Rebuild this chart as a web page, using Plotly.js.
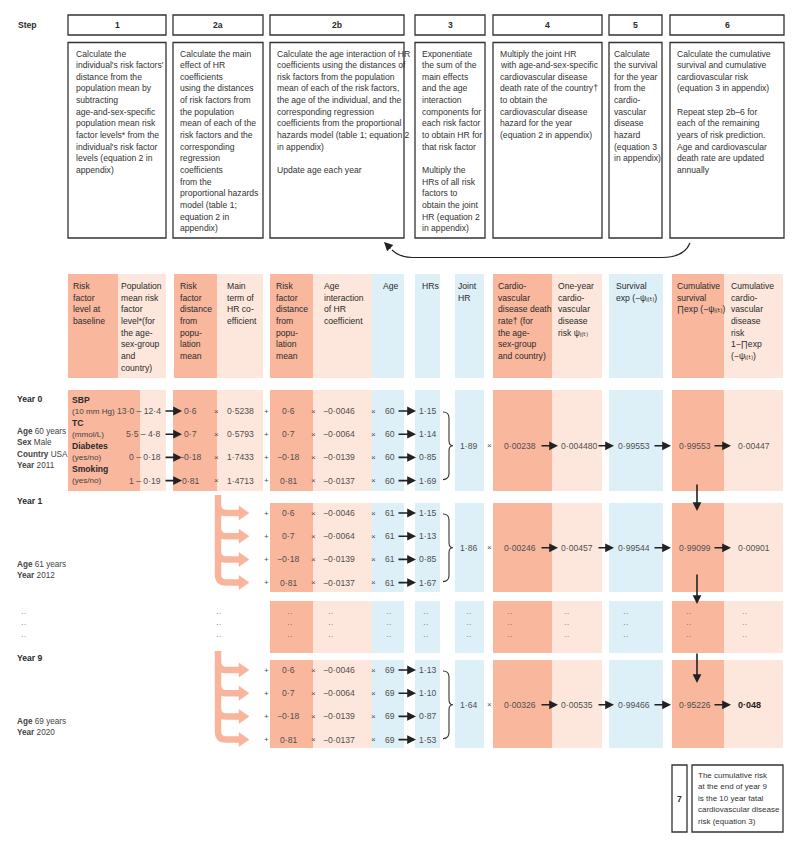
<!DOCTYPE html>
<html>
<head>
<meta charset="utf-8">
<script src="https://cdn.plot.ly/plotly-3.0.1.min.js"></script>
<style>
  html, body { margin: 0; padding: 0; background: #fff; }
  #chart { width: 800px; height: 848px; }
</style>
</head>
<body>
<div id="chart"></div>
<script>
// ---- values ----
const steps = ['1', '2a', '2b', '3', '4', '5', '6'];
const stepText = [
  "Calculate the|individual's risk factors'|distance from the|population mean by|subtracting|age-and-sex-specific|population mean risk|factor levels* from the|individual's risk factor|levels (equation 2 in|appendix)",
  "Calculate the main|effect of HR|coefficients|using the distances|of risk factors from|the population|mean of each of the|risk factors and the|corresponding|regression|coefficients|from the|proportional hazards|model (table 1;|equation 2 in|appendix)",
  "Calculate the age interaction of HR|coefficients using the distances of|risk factors from the population|mean of each of the risk factors,|the age of the individual, and the|corresponding regression|coefficients from the proportional|hazards model (table 1; equation 2|in appendix)||Update age each year",
  "Exponentiate|the sum of the|main effects|and the age|interaction|components for|each risk factor|to obtain HR for|that risk factor||Multiply the|HRs of all risk|factors to|obtain the joint|HR (equation 2|in appendix)",
  "Multiply the joint HR|with age-and-sex-specific|cardiovascular disease|death rate of the country†|to obtain the|cardiovascular disease|hazard for the year|(equation 2 in appendix)",
  "Calculate|the survival|for the year|from the|cardio-|vascular|disease|hazard|(equation 3|in appendix)",
  "Calculate the cumulative|survival and cumulative|cardiovascular risk|(equation 3 in appendix)||Repeat step 2b–6 for|each of the remaining|years of risk prediction.|Age and cardiovascular|death rate are updated|annually"
];
const step7Text = "The cumulative risk|at the end of year 9|is the 10 year fatal|cardiovascular disease|risk (equation 3)";

const SUB = 'ᵢ₍ₜ₎';
const columnHeads = [
  'Risk|factor|level at|baseline',
  'Population|mean risk|factor|level*(for|the age-|sex-group|and|country)',
  'Risk|factor|distance|from|popu-|lation|mean',
  'Main|term of|HR co-|efficient',
  'Risk|factor|distance|from|popu-|lation|mean',
  'Age|interaction|of HR|coefficient',
  'Age',
  'HRs',
  'Joint|HR',
  'Cardio-|vascular|disease death|rate† (for|the age-|sex-group|and country)',
  'One-year|cardio-|vascular|disease|risk ψ' + SUB,
  'Survival|exp (−ψ' + SUB + ')',
  'Cumulative|survival|∏exp (−ψ' + SUB + ')',
  'Cumulative|cardio-|vascular|disease|risk|1−∏exp|(−ψ' + SUB + ')'
];

const riskFactors = ['SBP', 'TC', 'Diabetes', 'Smoking'];
const riskUnits = ['(10 mm Hg)', '(mmol/L)', '(yes/no)', '(yes/no)'];
const baselineLevel = ['13.0', '5.5', '0', '1'];
const populationMean = ['12.4', '4.8', '0.18', '0.19'];
const distance = ['0.6', '0.7', '-0.18', '0.81'];
const mainCoef = ['0.5238', '0.5793', '1.7433', '1.4713'];
const ageCoef = ['-0.0046', '-0.0064', '-0.0139', '-0.0137'];

const sex = 'Male';
const country = 'USA';
const yearNo = [0, 1, 9];
const age = [60, 61, 69];
const calendarYear = [2011, 2012, 2020];
const hrYear0 = ['1.15', '1.14', '0.85', '1.69'];
const hrYear1 = ['1.15', '1.13', '0.85', '1.67'];
const hrYear9 = ['1.13', '1.10', '0.87', '1.53'];
const jointHR = ['1.89', '1.86', '1.64'];
const deathRate = ['0.00238', '0.00246', '0.00326'];
const oneYearRisk = ['0.004480', '0.00457', '0.00535'];
const survival = ['0.99553', '0.99544', '0.99466'];
const cumSurvival = ['0.99553', '0.99099', '0.95226'];
const cumRisk = ['0.00447', '0.00901', '0.048'];

// ---- layout constants ----
const FONT = 'Liberation Sans, Arial, DejaVu Sans, sans-serif';
const FS = 8.6;
const LH = 11.65;
const DARK = '#f9b79e', LIGHT = '#fde7dc', BLUE = '#ddeff7';
const INK = '#2b2b2b', NUM = '#505050';

const stepCols = [[68, 166], [173, 263], [270, 404], [415, 485], [493, 602], [609, 662], [670, 784]];
const stepPad = [7, 6, 6, 6, 6, 4, 6];
const headCols = [
  [68, 118, DARK, 72], [118, 166, LIGHT, 120], [174, 217, DARK, 179], [217, 263, LIGHT, 226],
  [270, 313, DARK, 275], [313, 372, LIGHT, 323], [372, 404, BLUE, 382], [415, 440, BLUE, 421],
  [455, 484, BLUE, 457], [493, 552, DARK, 497], [552, 602, LIGHT, 557], [609, 663, BLUE, 615],
  [672, 724, DARK, 676], [724, 783, LIGHT, 730]
];
// body blocks from column C onwards
const bodyCols = [
  [270, 313, DARK], [313, 372, LIGHT], [372, 404, BLUE], [415, 440, BLUE], [455, 484, BLUE],
  [493, 552, DARK], [552, 602, LIGHT], [609, 663, BLUE], [672, 724, DARK], [724, 783, LIGHT]
];
const blocks = [
  { top: 390, bottom: 491, row0: 411 },
  { top: 503, bottom: 592, row0: 513 },
  { top: 660, bottom: 748, row0: 670 }
];
const ROW = 23.2;
const dotsBlock = { top: 601, bottom: 653, rows: [615, 626.5, 638] };

const fmt = s => String(s).replace('.', '·').replace('-', '−');

const shapes = [];
const ann = [];

function rect(x0, y0, x1, y1, fill, stroke) {
  shapes.push({
    type: 'rect', xref: 'x', yref: 'y', x0, y0, x1, y1,
    fillcolor: fill || 'rgba(0,0,0,0)',
    line: { width: stroke ? 1.3 : 0, color: stroke || 'rgba(0,0,0,0)' },
    layer: fill ? 'below' : 'above'
  });
}
function path(d, color, width, fill) {
  shapes.push({
    type: 'path', xref: 'x', yref: 'y', path: d,
    line: { color, width }, fillcolor: fill || 'rgba(0,0,0,0)', layer: 'above'
  });
}
function txt(x, y, text, opts = {}) {
  const { font: f, ...o } = opts;
  const font = Object.assign({ family: FONT, size: FS, color: NUM }, f || {});
  ann.push(Object.assign({
    x, y, text, xref: 'x', yref: 'y', showarrow: false,
    xanchor: 'left', yanchor: 'middle', align: 'left', borderpad: 0, font
  }, o));
}
// one annotation per line so the line spacing matches the print
function lines(x, y0, text, color, size = FS) {
  text.split('|').forEach((s, i) => {
    if (s) txt(x, y0 + i * LH, s, { font: { color, size } });
  });
}
function arrow(x0, y0, x1, y1) {
  ann.push({
    x: x1, y: y1, ax: x0, ay: y0, xref: 'x', yref: 'y', axref: 'x', ayref: 'y',
    text: '', showarrow: true, arrowhead: 2, arrowsize: 1.1, arrowwidth: 1.6,
    arrowcolor: '#222', standoff: 0
  });
}

// ---- step boxes ----
txt(17, 25, '<b>Step</b>', { font: { color: INK } });
steps.forEach((s, i) => {
  const [l, r] = stepCols[i];
  rect(l, 15, r, 35, null, '#333');
  txt((l + r) / 2, 25, '<b>' + s + '</b>', { xanchor: 'center', font: { color: INK } });
  rect(l, 42.5, r, 238, null, '#333');
  lines(l + stepPad[i], 53.5, stepText[i], '#333');
});

// loop-back arrow from step 6 to step 2b
path('M 690 243 Q 684 257.5 662 257.5 L 412 257.5 Q 400 257.5 392 250', '#222', 1.2);
arrow(392, 250, 384, 242);

// ---- column headers ----
headCols.forEach((c, i) => {
  rect(c[0], 274, c[1], 378, c[2]);
  lines(c[3], 286, columnHeads[i], INK);
});

// ---- year blocks ----
const hrs = [hrYear0, hrYear1, hrYear9];
const LEFT = { font: { color: '#444', size: 8.2 } };
blocks.forEach((b, k) => {
  bodyCols.forEach(c => rect(c[0], b.top, c[1], b.bottom, c[2]));
  const rows = riskFactors.map((_, i) => b.row0 + i * ROW);
  const mid = (rows[0] + rows[3]) / 2;

  if (k === 0) {
    rect(68, b.top, 140, b.bottom, DARK);
    rect(140, b.top, 166, b.bottom, LIGHT);
    rect(173, b.top, 217, b.bottom, DARK);
    rect(217, b.top, 263, b.bottom, LIGHT);
  }

  rows.forEach((y, i) => {
    if (k === 0) {
      txt(71, y - 11.5, '<b>' + riskFactors[i] + '</b>', { font: { color: INK } });
      txt(71, y, riskUnits[i], { font: { color: '#444', size: 8.1 } });
      txt(162, y, fmt(baselineLevel[i]) + ' – ' + fmt(populationMean[i]), { xanchor: 'right' });
      arrow(164, y, 182, y);
      txt(190, y, fmt(distance[i]), { xanchor: 'center' });
      txt(216, y, '×', { xanchor: 'center', font: { size: 8 } });
      txt(240, y, fmt(mainCoef[i]), { xanchor: 'center' });
    }
    txt(266, y, '+', { xanchor: 'center', font: { size: 8 } });
    txt(288, y, fmt(distance[i]), { xanchor: 'center' });
    txt(313, y, '×', { xanchor: 'center', font: { size: 8 } });
    txt(339, y, fmt(ageCoef[i]), { xanchor: 'center' });
    txt(373, y, '×', { xanchor: 'center', font: { size: 8 } });
    txt(390, y, String(age[k]), { xanchor: 'center' });
    arrow(397, y, 416, y);
    txt(418, y, fmt(hrs[k][i]));
  });

  // brace grouping the four HRs
  const t = rows[0] + 1, e = rows[3] - 1;
  path(`M 443 ${t} Q 449 ${t} 449 ${t + 6} L 449 ${mid - 5} Q 449 ${mid} 453 ${mid} Q 449 ${mid} 449 ${mid + 5} L 449 ${e - 6} Q 449 ${e} 443 ${e}`, '#333', 1.1);

  txt(468, mid, fmt(jointHR[k]), { xanchor: 'center' });
  txt(489, mid, '×', { xanchor: 'center', font: { size: 8 } });
  txt(503, mid, fmt(deathRate[k]));
  arrow(540, mid, 558, mid);
  txt(560, mid, fmt(oneYearRisk[k]));
  arrow(597, mid, 614, mid);
  txt(617, mid, fmt(survival[k]));
  arrow(653, mid, 671, mid);
  txt(678, mid, fmt(cumSurvival[k]));
  arrow(713, mid, 731, mid);
  const last = k === blocks.length - 1;
  txt(737, mid, last ? '<b>' + fmt(cumRisk[k]) + '</b>' : fmt(cumRisk[k]),
      { font: { color: last ? '#222' : NUM, size: last ? 9 : FS } });

  // year labels on the left
  txt(16, rows[0] - 12, '<b>Year ' + yearNo[k] + '</b>', { font: { color: INK } });
  if (k === 0) {
    txt(16, 431, '<b>Age</b> ' + age[k] + ' years', LEFT);
    txt(16, 442.5, '<b>Sex</b> ' + sex, LEFT);
    txt(16, 454, '<b>Country</b> ' + country, LEFT);
    txt(16, 465.5, '<b>Year</b> ' + calendarYear[k], LEFT);
  } else {
    txt(16, rows[2] + 5, '<b>Age</b> ' + age[k] + ' years', LEFT);
    txt(16, rows[2] + 16.5, '<b>Year</b> ' + calendarYear[k], LEFT);

    // orange branching arrows carrying the distances forward
    const top = k === 1 ? 495 : 651;
    const ORANGE = '#f9b59b';
    let d = `M 218 ${top} L 218 ${rows[3] - 8} Q 218 ${rows[3]} 226 ${rows[3]} L 241 ${rows[3]}`;
    for (let i = 0; i < 3; i++) {
      d += ` M 218 ${rows[i] - 8} Q 218 ${rows[i]} 226 ${rows[i]} L 241 ${rows[i]}`;
    }
    path(d, ORANGE, 6.5);
    rows.forEach(y => path(`M 239 ${y - 7} L 249 ${y} L 239 ${y + 7} Z`, ORANGE, 0.5, ORANGE));
  }
});

// ---- ellipsis block ----
bodyCols.forEach(c => rect(c[0], dotsBlock.top, c[1], dotsBlock.bottom, c[2]));
const dotX = [23, 218, 289, 330, 388, 425, 468, 509, 566, 625, 688, 744];
dotsBlock.rows.forEach(y => dotX.forEach(x => txt(x, y - 2, '··', { xanchor: 'center', font: { size: 8, color: '#666' } })));

// cumulative survival carried down between years
arrow(697, 483, 697, 511);
arrow(697, 573, 697, 604);
arrow(697, 652, 697, 683);

// ---- step 7 ----
rect(672, 765, 687, 832, null, '#333');
txt(679.5, 798.5, '<b>7</b>', { xanchor: 'center', font: { color: INK } });
rect(692, 765, 783, 832, null, '#333');
lines(697, 775, step7Text, '#333', 8);

const layout = {
  width: 800, height: 848,
  margin: { l: 0, r: 0, t: 0, b: 0 },
  paper_bgcolor: '#fff', plot_bgcolor: '#fff',
  xaxis: { range: [0, 800], visible: false, fixedrange: true },
  yaxis: { range: [848, 0], visible: false, fixedrange: true },
  showlegend: false,
  shapes, annotations: ann
};
const trace = { x: [0, 800], y: [0, 848], mode: 'markers', marker: { opacity: 0 }, hoverinfo: 'skip' };

Plotly.newPlot('chart', [trace], layout, { staticPlot: true, displayModeBar: false });
</script>
</body>
</html>
